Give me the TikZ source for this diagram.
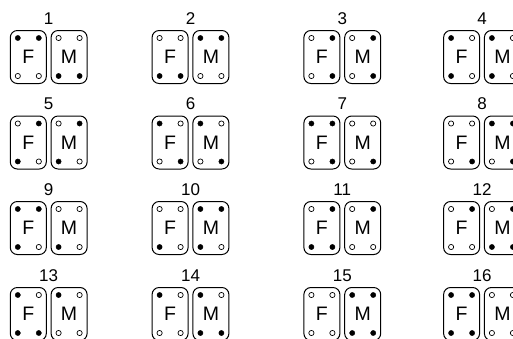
\documentclass[tikz,border=0pt]{standalone}
\usepackage{fontspec}
\setmainfont{Liberation Sans}
\tikzset{
  panel/.style={draw=black, line width=1pt, rounded corners=7pt, minimum width=36pt, minimum height=53pt, inner sep=0pt, font=\fontsize{19.5}{19.5}\selectfont},
  numlabel/.style={inner sep=0pt, font=\fontsize{17}{17}\selectfont},
  fd/.style={fill=black, draw=black, line width=0.4pt},
  od/.style={fill=white, draw=black, line width=0.7pt}
}
\newcommand{\pdot}[4]{\draw[#4] ([shift={(#2,#3)}]#1.center) circle (2.6pt);}
\newcommand{\fourdots}[5]{%
  \pdot{#1}{-10.5}{-19}{#2}\pdot{#1}{10.5}{-19}{#3}%
  \pdot{#1}{-10.5}{19}{#4}\pdot{#1}{10.5}{19}{#5}}
\newcommand{\pairof}[3]{%
  \node[panel] (f#1) at (#2-20.4,#3) {F};
  \node[panel] (m#1) at (#2+20.4,#3) {M};
  \node[numlabel] (n#1) at (#2,#3-38.5) {#1};}
\begin{document}
\begin{tikzpicture}[x=1pt,y=-1pt]
\clip (0,0) rectangle (513,338);
\fill[white] (0,0) rectangle (513,338);
% row 1
\pairof{1}{48.7}{57}
\fourdots{f1}{fd}{fd}{od}{od}\fourdots{m1}{od}{od}{fd}{fd}
\pairof{2}{190.5}{57}
\fourdots{f2}{od}{od}{fd}{fd}\fourdots{m2}{fd}{fd}{od}{od}
\pairof{3}{342.3}{57}
\fourdots{f3}{od}{fd}{od}{fd}\fourdots{m3}{od}{fd}{od}{fd}
\pairof{4}{482}{57}
\fourdots{f4}{fd}{od}{fd}{od}\fourdots{m4}{fd}{od}{fd}{od}
% row 2
\pairof{5}{48.7}{142.5}
\fourdots{f5}{od}{fd}{fd}{od}\fourdots{m5}{od}{fd}{fd}{od}
\pairof{6}{190.5}{142.5}
\fourdots{f6}{fd}{od}{od}{fd}\fourdots{m6}{fd}{od}{od}{fd}
\pairof{7}{342.3}{142.5}
\fourdots{f7}{fd}{fd}{od}{fd}\fourdots{m7}{od}{od}{od}{fd}
\pairof{8}{482}{142.5}
\fourdots{f8}{od}{od}{od}{fd}\fourdots{m8}{fd}{fd}{od}{fd}
% row 3
\pairof{9}{48.7}{228}
\fourdots{f9}{fd}{fd}{fd}{od}\fourdots{m9}{od}{od}{fd}{od}
\pairof{10}{190.5}{228}
\fourdots{f10}{od}{od}{fd}{od}\fourdots{m10}{fd}{fd}{fd}{od}
\pairof{11}{342.3}{228}
\fourdots{f11}{od}{fd}{fd}{fd}\fourdots{m11}{od}{fd}{od}{od}
\pairof{12}{482}{228}
\fourdots{f12}{od}{fd}{od}{od}\fourdots{m12}{od}{fd}{fd}{fd}
% row 4
\pairof{13}{48.7}{314}
\fourdots{f13}{fd}{od}{fd}{fd}\fourdots{m13}{fd}{od}{od}{od}
\pairof{14}{190.5}{314}
\fourdots{f14}{fd}{od}{od}{od}\fourdots{m14}{fd}{od}{fd}{fd}
\pairof{15}{342.3}{314}
\fourdots{f15}{od}{od}{od}{od}\fourdots{m15}{fd}{fd}{fd}{fd}
\pairof{16}{482}{314}
\fourdots{f16}{fd}{fd}{fd}{fd}\fourdots{m16}{od}{od}{od}{od}
\end{tikzpicture}
\end{document}
